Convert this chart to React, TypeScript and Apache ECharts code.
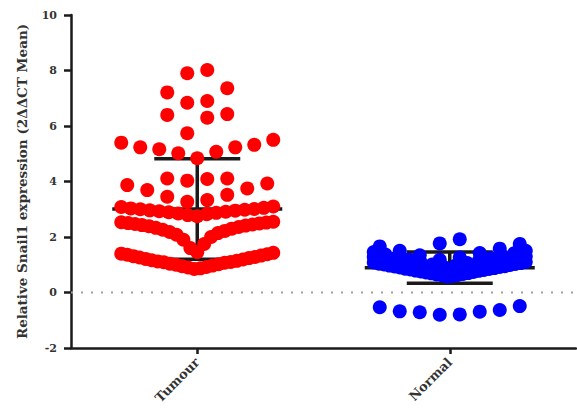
import React, { useEffect, useRef } from "react";
import * as echarts from "echarts";

// Groups shown on the category axis
const categories = ["Tumour", "Normal"];

// Tumour expression values, one list per horizontal row of the scatter
const tumourBand1 = [0.85, 0.87, 0.9, 0.92, 0.95, 0.97, 1.0, 1.02, 1.04, 1.07, 1.09, 1.1, 1.12, 1.14, 1.16, 1.19, 1.21, 1.24, 1.26, 1.28, 1.31, 1.33, 1.36, 1.38, 1.4, 1.43];
const tumourBand2 = [1.45, 1.6, 1.75, 1.9, 2.0, 2.08, 2.14, 2.18, 2.22, 2.26, 2.3, 2.33, 2.36, 2.39, 2.41, 2.43, 2.45, 2.47, 2.49, 2.5, 2.52, 2.53, 2.55];
const tumourBand3 = [2.75, 2.79, 2.82, 2.85, 2.87, 2.89, 2.91, 2.93, 2.95, 2.96, 2.98, 3.0, 3.01, 3.03, 3.05, 3.08, 3.1];
const tumourRow4 = [3.27, 3.33, 3.45, 3.52, 3.69, 3.75, 3.87, 3.93];
const tumourRow5 = [4.03, 4.09, 4.11, 4.11];
const tumourRow6 = [4.84, 5.02, 5.07, 5.16, 5.23, 5.23, 5.32, 5.4, 5.5];
const tumourRow7 = [5.74, 6.3, 6.4, 6.43];
const tumourRow8 = [6.84, 6.9, 7.21, 7.36];
const tumourRow9 = [7.9, 8.02];

// Normal tissue expression values, one list per row
const normalRow1 = [0.58, 0.6, 0.62, 0.63, 0.65, 0.67, 0.69, 0.7, 0.72, 0.74, 0.76, 0.78, 0.79, 0.81, 0.83, 0.85, 0.86, 0.88, 0.9, 0.92, 0.94, 0.95, 0.97, 0.99, 1.01, 1.03, 1.04, 1.06, 1.08, 1.1];
const normalRow2 = [0.72, 0.74, 0.76, 0.78, 0.8, 0.83, 0.85, 0.87, 0.89, 0.91, 0.94, 0.96, 0.98, 1.0, 1.02, 1.04, 1.07, 1.09, 1.11, 1.13, 1.15, 1.18, 1.2, 1.22, 1.24, 1.26, 1.28, 1.3];
const normalRow3 = [0.92, 0.97, 1.01, 1.06, 1.1, 1.15, 1.19, 1.24, 1.28, 1.32, 1.37, 1.41, 1.46, 1.5];
const normalRow4 = [1.18, 1.26, 1.34, 1.42, 1.5, 1.58, 1.66, 1.75];
const normalTop = [1.77, 1.92];
const normalNeg = [-0.8, -0.79, -0.71, -0.69, -0.68, -0.63, -0.53, -0.49];

const tumourRows = [tumourBand1, tumourBand2, tumourBand3, tumourRow4, tumourRow5, tumourRow6, tumourRow7, tumourRow8, tumourRow9];
const normalRows = [normalRow1, normalRow2, normalRow3, normalRow4, normalTop, normalNeg];

// Y axis ticks and the dotted baseline
const yMin = -2;
const yMax = 10;
const yStep = 2;
const baseline = 0;

const WIDTH = 577;
const HEIGHT = 413;
const GRID = { left: 71, right: 1, top: 15, bottom: 65 };
const PLOT_W = WIDTH - GRID.left - GRID.right;
const X_SPAN = 2; // hidden value axis runs 0..2, groups centred at 0.5 and 1.5
const PX_PER_UNIT = PLOT_W / X_SPAN;
const DOT_STEP = 20; // preferred spacing between neighbours in a row (px)
const ROW_MAX_W = 152; // widest a row may spread (px)
const MEAN_HALF = 85;
const CAP_HALF = 43;

const FONT = "DejaVu Serif";

// Lay each row out side by side: lowest value in the middle, then alternately left / right.
function swarm(rows: number[][], centre: number): number[][] {
  const out: number[][] = [];
  rows.forEach((row) => {
    const sorted = [...row].sort((a, b) => a - b);
    const n = sorted.length;
    const step = n > 1 ? Math.min(DOT_STEP, ROW_MAX_W / (n - 1)) : 0;
    sorted.forEach((v, i) => {
      let slot: number;
      if (n % 2 === 1) {
        slot = i === 0 ? 0 : Math.ceil(i / 2) * (i % 2 === 1 ? -1 : 1);
      } else {
        slot = (Math.floor(i / 2) + 0.5) * (i % 2 === 0 ? -1 : 1);
      }
      out.push([centre + (slot * step) / PX_PER_UNIT, v]);
    });
  });
  return out;
}

function meanSd(rows: number[][]): [number, number] {
  const all = rows.flat();
  const m = all.reduce((s, v) => s + v, 0) / all.length;
  const ss = all.reduce((s, v) => s + (v - m) * (v - m), 0);
  return [m, Math.sqrt(ss / (all.length - 1))];
}

export default function App() {
  const ref = useRef<HTMLDivElement>(null);

  useEffect(() => {
    if (!ref.current) return;
    const chart = echarts.init(ref.current, null, { renderer: "svg" });

    const [tm, tsd] = meanSd(tumourRows);
    const [nm, nsd] = meanSd(normalRows);
    const summary = [
      [0, tm, tsd],
      [1, nm, nsd],
    ];

    const axisLine = { onZero: false, lineStyle: { color: "#1a1a1a", width: 2.5 } };
    const labelFont = { fontFamily: FONT, fontWeight: "bold" as const, color: "#333" };

    chart.setOption({
      animation: false,
      backgroundColor: "#fff",
      grid: { ...GRID },
      xAxis: [
        {
          type: "category",
          data: categories,
          boundaryGap: true,
          axisLine,
          axisTick: { show: true, alignWithLabel: true, length: 6, lineStyle: { color: "#1a1a1a", width: 2.5 } },
          axisLabel: { ...labelFont, fontSize: 13, rotate: 45, margin: 12 },
          splitLine: { show: false },
        },
        {
          type: "value",
          min: 0,
          max: X_SPAN,
          show: false,
          axisLine: { show: false, onZero: false },
          splitLine: { show: false },
        },
      ],
      yAxis: {
        type: "value",
        min: yMin,
        max: yMax,
        interval: yStep,
        axisLine: { show: true, ...axisLine },
        axisTick: { show: true, length: 7, lineStyle: { color: "#1a1a1a", width: 2.5 } },
        axisLabel: { ...labelFont, fontSize: 11, margin: 14 },
        splitLine: { show: false },
        name: "Relative Snail1 expression (2ΔΔCT Mean)",
        nameLocation: "middle",
        nameGap: 42,
        nameTextStyle: { ...labelFont, fontSize: 13.5 },
      },
      series: [
        {
          type: "line",
          xAxisIndex: 1,
          yAxisIndex: 0,
          z: 0,
          silent: true,
          symbol: "none",
          data: [
            [0, baseline],
            [X_SPAN, baseline],
          ],
          lineStyle: { type: [2, 8], color: "#a0a0a0", width: 2 },
        },
        {
          type: "custom",
          xAxisIndex: 0,
          yAxisIndex: 0,
          z: 1,
          data: summary,
          encode: { x: 0, y: 1 },
          renderItem: (_params: any, api: any) => {
            const x = api.value(0);
            const m = api.value(1);
            const sd = api.value(2);
            const c = api.coord([x, m]);
            const hi = api.coord([x, m + sd]);
            const lo = api.coord([x, m - sd]);
            const style = { stroke: "#1a1a1a", lineWidth: 3.5 };
            return {
              type: "group",
              children: [
                { type: "line", shape: { x1: c[0], y1: hi[1], x2: c[0], y2: lo[1] }, style },
                { type: "line", shape: { x1: c[0] - MEAN_HALF, y1: c[1], x2: c[0] + MEAN_HALF, y2: c[1] }, style },
                { type: "line", shape: { x1: c[0] - CAP_HALF, y1: hi[1], x2: c[0] + CAP_HALF, y2: hi[1] }, style },
                { type: "line", shape: { x1: c[0] - CAP_HALF, y1: lo[1], x2: c[0] + CAP_HALF, y2: lo[1] }, style },
              ],
            };
          },
        },
        {
          type: "scatter",
          name: categories[0],
          xAxisIndex: 1,
          yAxisIndex: 0,
          z: 2,
          symbolSize: 14,
          itemStyle: { color: "#ff0000", opacity: 1 },
          data: swarm(tumourRows, 0.5),
        },
        {
          type: "scatter",
          name: categories[1],
          xAxisIndex: 1,
          yAxisIndex: 0,
          z: 2,
          symbolSize: 14,
          itemStyle: { color: "#0000ff", opacity: 1 },
          data: swarm(normalRows, 1.5),
        },
      ],
    });

    return () => chart.dispose();
  }, []);

  return (
    <div
      ref={ref}
      style={{ position: "fixed", left: 0, top: 0, width: WIDTH, height: HEIGHT, background: "#fff" }}
    />
  );
}
